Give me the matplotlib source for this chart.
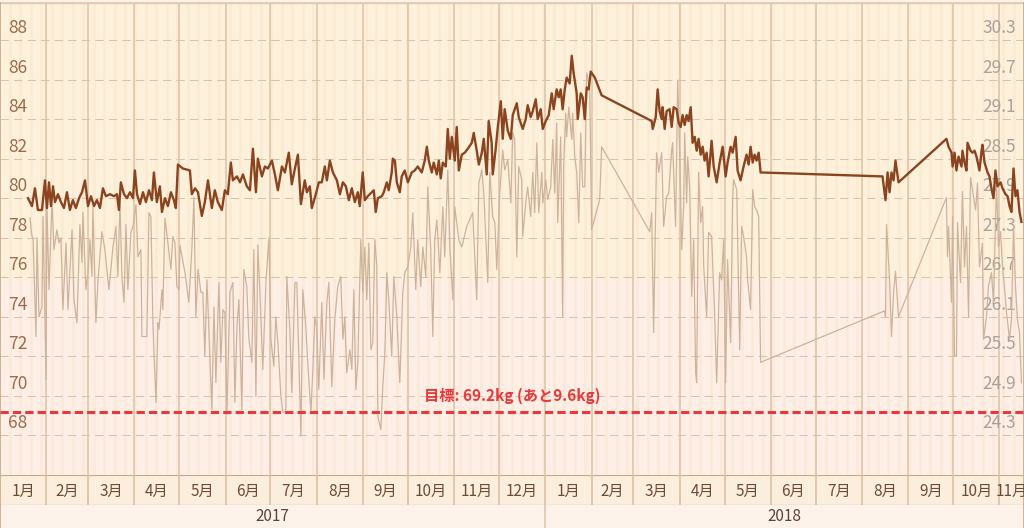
import numpy as np
import matplotlib
matplotlib.use("Agg")
import matplotlib.pyplot as plt
from matplotlib.transforms import blended_transform_factory
from datetime import date

plt.rcParams['font.family'] = ['Noto Sans CJK JP', 'DejaVu Sans']

# ---------------- data ----------------
# days since 2017-01-01
weight_days = [18.7, 21.4, 23.4, 25.4, 28.1, 30.1, 31.4, 32.8, 34.1, 35.5, 36.8, 38.8, 40.8, 42.8, 44.8, 46.8,
               48.8, 50.8, 52.9, 54.9, 56.9, 58.9, 60.9, 62.9, 64.9, 66.9, 68.9, 70.9, 73.6, 76.3, 78.3, 79.6,
               80.9, 83.0, 85.0, 87.0, 89.0, 90.3, 91.7, 93.7, 95.7, 97.7, 99.7, 101.7, 103.0, 105.0, 107.0,
               108.4, 110.4, 112.4, 114.4, 116.4, 117.7, 119.1, 122.4, 127.1, 128.4, 130.5, 132.5, 135.1, 137.1,
               139.2, 141.8, 143.8, 145.8, 148.5, 150.5, 152.5, 154.5, 155.9, 158.6, 160.6, 162.6, 165.2, 167.3,
               169.3, 171.3, 172.6, 175.3, 177.3, 179.3, 182.0, 184.0, 186.0, 188.7, 190.7, 193.3, 195.3, 197.4,
               199.4, 201.4, 204.0, 205.4, 207.4, 208.7, 211.4, 213.4, 215.4, 217.4, 218.8, 220.8, 222.8, 225.5,
               227.5, 229.5, 231.5, 233.5, 235.5, 237.5, 239.5, 240.8, 242.8, 244.2, 246.2, 248.9, 250.2, 251.5,
               252.9, 255.6, 256.9, 258.9, 260.2, 262.2, 262.9, 264.3, 265.6, 267.6, 268.9, 270.9, 273.0, 275.6,
               277.6, 279.6, 282.3, 284.3, 285.7, 287.0, 289.0, 290.3, 292.4, 293.7, 295.0, 296.4, 298.4, 299.7,
               301.1, 302.4, 304.4, 305.7, 307.1, 309.1, 311.1, 313.1, 315.8, 317.1, 319.1, 320.5, 322.5, 323.8,
               325.8, 327.1, 329.1, 329.8, 331.8, 333.2, 335.2, 336.5, 337.8, 339.9, 341.9, 343.2, 345.9, 347.2,
               349.9, 351.9, 353.2, 355.2, 356.6, 358.6, 359.9, 361.9, 363.3, 365.3, 367.3, 369.3, 370.6, 372.6,
               374.0, 375.3, 376.6, 378.0, 379.3, 381.3, 382.7, 384.0, 386.0, 386.7, 388.7, 390.0, 391.4, 392.7,
               394.0, 395.4, 398.1, 402.7, 436.2, 436.9, 438.9, 440.2, 441.5, 442.9, 443.5, 444.9, 446.2, 448.2,
               449.6, 450.9, 452.9, 454.3, 455.6, 456.9, 458.3, 459.6, 460.9, 462.3, 463.6, 465.0, 466.3, 467.6,
               469.0, 470.3, 471.6, 473.0, 474.3, 476.3, 477.7, 479.7, 481.7, 483.7, 485.7, 487.0, 489.0, 490.4,
               492.4, 493.7, 495.7, 497.7, 499.7, 501.1, 502.4, 503.8, 505.1, 506.4, 507.8, 509.1, 590.7, 592.7,
               594.1, 595.4, 596.7, 598.1, 599.4, 601.4, 633.5, 634.9, 636.9, 637.6, 638.9, 640.2, 641.6, 643.6,
               644.2, 645.6, 646.9, 647.6, 649.6, 650.9, 652.3, 653.6, 655.6, 657.0, 657.6, 659.0, 661.0, 662.3,
               663.6, 665.0, 666.3, 667.7, 669.7, 671.0, 673.0, 674.4, 675.7, 677.0, 678.4, 679.7, 681.0, 682.4,
               683.7]
weight_kg = [80.0, 79.6, 80.5, 79.4, 79.4, 80.9, 79.5, 80.8, 79.6, 80.6, 79.8, 80.2, 79.8, 79.5, 80.3, 79.4,
             79.9, 79.5, 80.0, 80.3, 80.9, 79.6, 80.1, 79.6, 79.9, 79.5, 80.5, 80.1, 80.2, 80.1, 80.2, 79.4,
             80.8, 80.2, 80.0, 80.3, 80.0, 81.4, 80.2, 79.7, 80.3, 79.8, 80.4, 79.9, 81.3, 79.8, 80.6,
             79.3, 80.0, 79.6, 80.3, 79.9, 79.5, 81.7, 81.5, 81.4, 80.2, 80.5, 80.3, 79.1, 79.8,
             80.9, 79.5, 80.4, 79.8, 79.4, 80.4, 80.2, 81.8, 80.9, 81.1, 80.8, 81.2, 80.6, 80.4,
             82.5, 80.3, 82.0, 81.1, 81.6, 81.5, 81.9, 81.2, 80.4, 81.6, 81.3, 82.3, 80.7, 81.5,
             82.2, 79.7, 80.9, 80.3, 80.6, 79.5, 80.2, 80.8, 80.8, 81.6, 80.9, 81.9, 81.3, 80.9,
             80.2, 80.8, 80.6, 79.9, 80.5, 79.8, 80.3, 79.6, 81.3, 79.9, 80.1, 80.3, 80.4, 79.3,
             80.0, 80.1, 80.3, 80.8, 80.4, 81.3, 82.0, 81.9, 80.8, 80.3, 81.1, 81.4, 80.8, 81.3,
             81.4, 81.6, 81.3, 81.9, 82.6, 81.9, 81.3, 81.8, 81.2, 81.9, 81.0, 81.8, 81.6, 83.5,
             82.0, 83.1, 81.9, 83.6, 81.4, 82.2, 82.3, 82.5, 82.8, 83.3, 82.4, 81.7, 82.3, 83.0,
             81.2, 83.9, 82.8, 81.2, 82.5, 83.6, 84.9, 83.0, 84.5, 83.4, 83.0, 84.2, 84.8, 84.1,
             83.5, 84.0, 84.7, 84.1, 84.4, 85.0, 84.0, 84.5, 83.5, 83.9, 84.2, 85.3, 84.5, 85.5,
             85.1, 85.5, 84.5, 85.5, 86.1, 85.8, 87.2, 86.3, 85.3, 84.0, 85.3, 85.1, 84.0, 85.6,
             85.5, 86.4, 86.1, 85.2, 83.9, 83.5, 84.1, 85.5, 84.4, 84.0, 84.6, 83.5, 84.4, 84.5,
             83.6, 84.6, 84.5, 83.8, 83.6, 84.2, 83.7, 84.2, 83.9, 84.6, 82.8, 83.1, 82.4, 83.0,
             82.2, 82.6, 81.9, 82.3, 81.1, 82.9, 81.6, 80.8, 81.8, 82.6, 81.1, 81.8, 82.6, 82.3,
             83.1, 81.4, 80.9, 81.6, 82.2, 81.7, 82.6, 81.8, 82.2, 81.9, 82.3, 81.3, 81.1, 79.9,
             81.3, 80.3, 81.3, 80.9, 81.9, 80.8, 83.0, 82.6, 82.3, 81.6, 82.3, 81.4, 82.1, 81.6,
             82.4, 81.8, 81.4, 82.8, 82.4, 82.3, 82.4, 82.1, 81.4, 82.4, 82.7, 81.8, 81.3, 81.1,
             80.5, 80.0, 81.4, 80.6, 80.8, 80.5, 80.2, 80.1, 79.6, 79.3, 81.5, 80.1, 80.4, 79.3,
             78.8]

fat_days = [20.1, 21.4, 22.1, 24.1, 24.8, 26.1, 28.1, 28.8, 30.8, 31.4, 32.8, 34.1, 34.8, 36.1, 38.1, 39.5,
            40.8, 42.1, 44.2, 45.5, 48.2, 49.5, 51.5, 53.5, 54.9, 55.5, 57.5, 58.9, 60.2, 61.5, 62.2, 64.2,
            65.6, 68.2, 70.2, 72.9, 75.6, 77.6, 78.9, 80.3, 81.6, 83.0, 84.3, 85.6, 87.6, 89.0, 91.0, 92.3,
            94.3, 95.0, 96.3, 98.3, 99.7, 101.0, 102.4, 104.4, 105.7, 106.4, 108.4, 109.0, 110.4, 112.4,
            114.4, 115.7, 117.1, 118.4, 119.8, 120.4, 123.8, 126.4, 128.4, 129.8, 131.1, 132.5, 134.5,
            135.8, 137.1, 138.5, 139.8, 141.8, 143.2, 144.5, 146.5, 147.8, 149.2, 150.5, 151.9, 153.9,
            155.9, 157.2, 158.6, 159.9, 161.9, 163.2, 165.2, 166.6, 168.6, 169.9, 171.3, 172.6, 174.6,
            175.9, 178.0, 180.0, 181.3, 183.3, 184.6, 186.0, 188.0, 189.3, 191.3, 192.0, 194.0, 195.3,
            197.4, 198.7, 201.4, 202.7, 204.7, 206.1, 208.1, 209.4, 210.7, 212.1, 213.4, 215.4, 216.8,
            218.8, 220.1, 222.1, 224.1, 226.1, 228.1, 229.5, 230.8, 232.1, 234.2, 235.5, 236.8, 238.2,
            239.5, 241.5, 242.8, 244.2, 245.5, 246.9, 248.2, 249.5, 250.9, 252.2, 252.9, 254.9, 256.2,
            257.6, 258.9, 260.2, 262.2, 263.6, 265.6, 267.6, 269.6, 270.9, 273.0, 275.0, 276.3, 278.3,
            279.6, 281.6, 283.0, 285.0, 286.3, 288.3, 289.7, 291.0, 292.4, 294.4, 296.4, 297.7, 299.7,
            301.1, 303.1, 304.4, 305.7, 307.1, 309.1, 312.4, 316.4, 319.1, 320.5, 322.5, 323.8, 326.5,
            327.8, 329.8, 331.2, 332.5, 334.5, 336.5, 337.8, 339.9, 341.9, 343.2, 344.5, 345.9, 347.2,
            349.2, 349.9, 351.9, 353.2, 355.2, 356.6, 357.9, 359.3, 360.6, 362.6, 363.3, 365.3, 366.6,
            368.6, 370.0, 371.3, 372.6, 373.3, 375.3, 376.6, 377.3, 378.7, 379.3, 380.7, 382.7, 383.3,
            384.7, 386.0, 387.4, 388.7, 390.0, 391.4, 392.7, 394.7, 396.0, 401.4, 402.7, 434.9, 436.2,
            437.5, 439.5, 440.9, 442.9, 444.2, 446.2, 447.6, 449.6, 450.2, 452.2, 453.6, 454.9, 456.3,
            457.6, 458.3, 459.6, 460.3, 461.6, 463.0, 464.3, 465.6, 466.3, 467.6, 469.0, 470.3, 471.0,
            473.0, 474.3, 476.3, 478.3, 479.7, 481.7, 483.0, 484.4, 485.7, 487.0, 489.0, 490.4, 491.0,
            493.1, 495.1, 496.4, 497.7, 499.7, 500.4, 502.4, 503.8, 505.1, 506.4, 507.8, 509.1, 592.1,
            592.7, 593.4, 595.4, 596.7, 598.1, 599.4, 601.4, 633.5, 634.2, 634.9, 636.9, 637.6, 638.9,
            640.2, 640.9, 642.9, 644.2, 645.6, 646.9, 648.3, 649.6, 650.9, 653.0, 654.3, 655.6, 657.6,
            658.3, 660.3, 661.6, 663.6, 665.0, 667.0, 668.3, 669.7, 671.0, 672.3, 673.7, 675.7, 677.0,
            678.4, 679.7, 681.0, 682.4, 683.7]
fat_vals = [27.60, 27.32, 27.30, 25.80, 27.30, 26.10, 26.25, 27.62, 25.15, 27.80, 26.51, 27.38, 27.88, 27.12,
            27.42, 27.22, 27.30, 26.21, 27.22, 26.21, 27.42, 26.36, 26.01, 27.50, 26.92, 27.69, 26.51, 26.77,
            27.27, 26.71, 27.77, 26.01, 26.66, 27.39, 27.12, 26.51, 27.16, 27.47, 26.71, 27.83, 26.71, 26.32,
            27.50, 26.51, 27.38, 27.47, 27.80, 27.01, 27.12, 25.80, 25.80, 25.80, 27.68, 27.62, 25.95, 24.80,
            26.01, 25.91, 26.51, 26.21, 27.60, 27.22, 26.82, 27.32, 27.22, 26.56, 26.51, 27.19, 26.77, 26.32,
            27.12, 27.91, 26.10, 26.82, 26.47, 26.47, 25.50, 26.66, 25.91, 24.69, 26.25, 25.10, 26.62, 25.41,
            26.21, 26.16, 24.62, 26.47, 26.62, 24.80, 25.95, 26.36, 24.69, 26.82, 26.56, 25.76, 25.41, 27.12,
            24.89, 27.19, 26.10, 25.30, 26.62, 27.30, 25.76, 25.35, 26.10, 25.71, 24.89, 24.65, 24.66, 26.71,
            25.91, 24.95, 26.62, 26.62, 24.29, 26.51, 25.95, 25.35, 24.65, 25.30, 26.10, 25.91, 25.00, 26.32,
            25.15, 26.32, 26.62, 25.04, 26.06, 26.56, 26.71, 25.76, 26.10, 25.25, 25.60, 25.30, 26.51, 25.00,
            25.41, 27.27, 26.47, 27.16, 26.36, 27.22, 25.60, 25.71, 27.27, 26.86, 24.59, 24.39, 25.04, 25.56,
            26.77, 26.36, 25.50, 26.71, 26.10, 25.10, 26.47, 26.77, 26.86, 27.16, 27.68, 26.51, 27.27, 26.56,
            27.16, 26.71, 28.07, 27.12, 25.80, 27.27, 27.57, 26.77, 27.77, 27.01, 28.33, 27.16, 26.36, 27.77,
            27.53, 27.27, 27.16, 27.47, 27.68, 26.36, 28.13, 28.33, 27.98, 26.62, 28.29, 27.62, 27.53, 26.82,
            27.98, 28.63, 28.33, 28.48, 27.83, 28.89, 28.79, 27.01, 28.38, 28.18, 27.32, 27.83, 28.07, 27.62,
            28.29, 27.68, 28.74, 27.68, 28.29, 27.83, 28.18, 27.88, 28.07, 28.79, 27.98, 29.04, 27.53, 28.83,
            26.10, 28.38, 29.19, 28.83, 29.28, 28.79, 29.19, 28.53, 28.29, 27.53, 28.89, 28.07, 28.07, 29.80,
            29.59, 27.42, 27.88, 28.68, 27.39, 27.68, 25.86, 28.59, 28.29, 28.59, 27.47, 27.92, 27.98, 28.63,
            28.74, 27.47, 29.69, 28.63, 27.12, 27.77, 28.89, 27.83, 28.53, 28.07, 26.41, 27.27, 25.25, 25.10,
            28.29, 27.53, 27.77, 26.86, 26.10, 27.38, 27.32, 26.16, 25.10, 26.77, 26.66, 27.27, 25.10, 26.97,
            25.71, 27.88, 28.18, 28.03, 25.60, 27.47, 27.32, 27.01, 26.66, 26.21, 28.03, 27.77, 27.72, 27.62,
            25.41, 26.19, 26.10, 27.50, 26.66, 25.80, 26.47, 26.79, 26.10, 27.91, 27.01, 27.47, 26.32, 27.62,
            25.50, 25.50, 27.53, 26.62, 28.00, 26.86, 27.47, 26.10, 28.21, 28.03, 27.72, 28.13, 26.86, 27.22,
            25.76, 26.10, 26.56, 26.77, 26.32, 28.13, 27.16, 27.39, 26.86, 26.56, 26.16, 25.76, 26.06, 27.47,
            26.56, 26.06, 25.86, 25.10]

left_ticks = [88, 86, 84, 82, 80, 78, 76, 74, 72, 70, 68]
right_tick_labels = ['30.3', '29.7', '29.1', '28.5', '27.9', '27.3', '26.7', '26.1', '25.5', '24.9', '24.3']
target_kg = 69.2
remaining_kg = 9.6
zone_boundary_kg = 75.9
kg_ylim = (66.0, 89.92)
fat_ylim = (23.7, 30.876)
start_date = date(2017, 1, 1)
end_day = 685.4
month_labels = ['1月', '2月', '3月', '4月', '5月', '6月', '7月', '8月', '9月', '10月', '11月', '12月']
years = [2017, 2018]

# ---------------- figure ----------------
W, H = 1024, 528
fig = plt.figure(figsize=(W / 100, H / 100), dpi=100)
fig.patch.set_facecolor('#fdf3ea')

ax = fig.add_axes([0, 53 / H, 1, 473 / H])
ax.set_xlim(0, end_day)
ax.set_ylim(*kg_ylim)
ax.set_facecolor('#fdf1dc')
for s in ax.spines.values():
    s.set_visible(False)
ax.set_xticks([])
ax.set_yticks([])

# background zones
ax.axhspan(kg_ylim[0], zone_boundary_kg, color='#fdefe6', lw=0, zorder=0)

# weekend stripes (Sat-Sun)
d0 = start_date.weekday()  # Monday=0
for d in range(int(end_day) + 1):
    wd = (d0 + d) % 7
    if wd in (5, 6):
        ax.axvspan(d, d + 1, color='#f6d6b0', alpha=0.2, lw=0, zorder=0.5)

# month boundaries
month_starts = []
y, m = 2017, 1
while True:
    ds = (date(y, m, 1) - start_date).days
    if ds > end_day:
        break
    month_starts.append((ds, y, m))
    m += 1
    if m > 12:
        m, y = 1, y + 1
for ds, yy, mm in month_starts[1:]:
    ax.axvline(ds, color='#dcc2a6', lw=1.1, zorder=1)

# horizontal dashed gridlines
for v in left_ticks:
    ax.axhline(v, color='#d8c3ae', lw=0.75, ls=(0, (8, 5)), zorder=1.2)

# top and side borders
ax.axhline(kg_ylim[1], color='#e2cdb4', lw=2.5, zorder=3)
ax.axvline(0, color='#c9a88a', lw=1.2, zorder=3)
ax.axvline(end_day, color='#c9a88a', lw=1.2, zorder=3)

# tick labels
tl = blended_transform_factory(ax.transAxes, ax.transData)
for v, rl in zip(left_ticks, right_tick_labels):
    ax.annotate(str(v), xy=(0, v), xycoords=tl, xytext=(8, 7), textcoords='offset pixels',
                ha='left', va='baseline', fontsize=12.5, color='#9c6c4c', zorder=5)
    ax.annotate(rl, xy=(1, v), xycoords=tl, xytext=(-8, 7), textcoords='offset pixels',
                ha='right', va='baseline', fontsize=12.5, color='#aaa19a', zorder=5)

# body-fat series on secondary axis
ax2 = ax.twinx()
ax2.set_ylim(*fat_ylim)
ax2.set_xlim(0, end_day)
ax2.axis('off')
ax2.plot(fat_days, fat_vals, color='#cdb39c', lw=0.9, zorder=2)

# weight series on top axis
ax3 = ax.twinx()
ax3.set_ylim(*kg_ylim)
ax3.set_xlim(0, end_day)
ax3.axis('off')
ax3.axhline(target_kg, color='#e8383b', lw=2.2, ls=(0, (2.7, 1.35)), zorder=3)
ax3.annotate(f'目標: {target_kg}kg (あと{remaining_kg}kg)', xy=(0.5, target_kg),
             xycoords=blended_transform_factory(ax3.transAxes, ax3.transData),
             xytext=(0, 8), textcoords='offset pixels', ha='center', va='bottom',
             fontsize=11, color='#e8383b', fontweight='bold')
ax3.plot(weight_days, weight_kg, color='#8a4520', lw=1.7, zorder=4)

# ---------------- month band ----------------
axm = fig.add_axes([0, 23 / H, 1, 30 / H])
axm.set_xlim(0, end_day)
axm.set_ylim(0, 1)
axm.set_facecolor('#fbeedd')
axm.set_xticks([]); axm.set_yticks([])
for s in axm.spines.values():
    s.set_visible(False)
axm.axhline(1, color='#c9a88a', lw=1.5)
axm.axhline(0, color='#dcc2a6', lw=1.0)
bounds = [ms[0] for ms in month_starts] + [end_day]
for i, (ds, yy, mm) in enumerate(month_starts):
    if i > 0:
        axm.axvline(ds, color='#d7bea2', lw=1.1)
    mid = (ds + bounds[i + 1]) / 2
    axm.text(mid, 0.45, month_labels[mm - 1], ha='center', va='center', fontsize=11,
             color='#6e4b37', clip_on=True)
axm.axvline(0, color='#c9a88a', lw=1.2)
axm.axvline(end_day, color='#c9a88a', lw=1.2)

# ---------------- year band ----------------
axy = fig.add_axes([0, 0, 1, 23 / H])
axy.set_xlim(0, end_day)
axy.set_ylim(0, 1)
axy.set_facecolor('#fdf3ea')
axy.set_xticks([]); axy.set_yticks([])
for s in axy.spines.values():
    s.set_visible(False)
ybounds = [(date(yr, 1, 1) - start_date).days for yr in years] + [end_day]
for i, yr in enumerate(years):
    if i > 0:
        axy.axvline(ybounds[i], color='#dcc2a6', lw=1.1)
    axy.text((ybounds[i] + ybounds[i + 1]) / 2, 0.5, str(yr), ha='center', va='center',
             fontsize=11, color='#5e4232')
axy.axvline(0, color='#c9a88a', lw=1.2)
axy.axvline(end_day, color='#c9a88a', lw=1.2)

fig.savefig('out.png', dpi=100, facecolor=fig.get_facecolor())
